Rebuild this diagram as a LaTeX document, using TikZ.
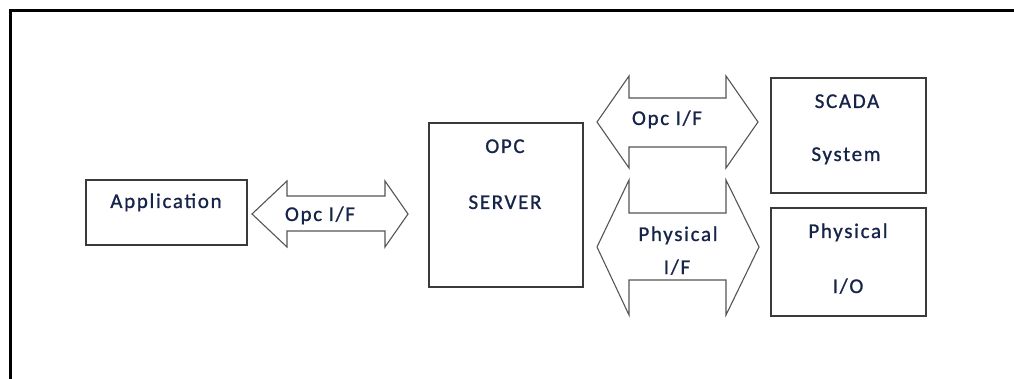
\documentclass[tikz,border=0pt]{standalone}
\usepackage{fontspec}
\setmainfont{Carlito}[LetterSpace=8,FakeBold=0.9]
\definecolor{txtc}{HTML}{17244A}
\definecolor{boxc}{HTML}{3A3A3A}
\definecolor{arrc}{HTML}{555555}
\begin{document}
\begin{tikzpicture}[x=1pt,y=-1pt,
  framel/.style={line width=2.6pt,draw=black},
  boxn/.style={draw=boxc,line width=1.3pt,inner sep=0pt,fill=white},
  barrow/.style={draw=arrc,line width=1.1pt,fill=white,line join=miter},
  lbl/.style={text=txtc,font=\fontsize{21}{24}\selectfont,inner sep=0pt,anchor=base}]
\useasboundingbox (0,0) rectangle (1014,379);
% outer frame (cut off at right and bottom)
\draw[framel] (10.5,379) -- (10.5,10.7) -- (1014,10.7);
% boxes
\node[boxn,minimum width=161pt,minimum height=65pt] (app) at (166.5,212.5) {};
\node[boxn,minimum width=154pt,minimum height=164pt] (srv) at (506,205) {};
\node[boxn,minimum width=155pt,minimum height=115pt] (scada) at (848.5,135.5) {};
\node[boxn,minimum width=155pt,minimum height=108pt] (pio) at (848.5,262) {};
% block arrows
\draw[barrow] (252,214) -- (287,181) -- (287,196) -- (385,196) -- (385,181) -- (408,214)
  -- (385,247) -- (385,231) -- (287,231) -- (287,247) -- cycle;
\draw[barrow] (597,122) -- (629,76) -- (629,98) -- (726,98) -- (726,76) -- (758,122)
  -- (726,168) -- (726,147) -- (629,147) -- (629,168) -- cycle;
\draw[barrow] (597,247) -- (629,180) -- (629,213) -- (726,213) -- (726,180) -- (759,247)
  -- (726,315) -- (726,280) -- (629,280) -- (629,315) -- cycle;
% labels
\node[lbl] (tapp) at (166,208) {Application};
\node[lbl] (ta1) at (320,221) {Opc I/F};
\node[lbl] (topc) at (505,153) {OPC};
\node[lbl] (tsrv) at (505,209) {SERVER};
\node[lbl] (ta2) at (667,125) {Opc I/F};
\node[lbl] (tscada) at (847,108) {SCADA};
\node[lbl] (tsys) at (846,161) {System};
\node[lbl] (ta3a) at (678,241) {Physical};
\node[lbl] (ta3b) at (677,274) {I/F};
\node[lbl] (tpio1) at (848,238) {Physical};
\node[lbl] (tpio2) at (848,293) {I/O};
\end{tikzpicture}
\end{document}
